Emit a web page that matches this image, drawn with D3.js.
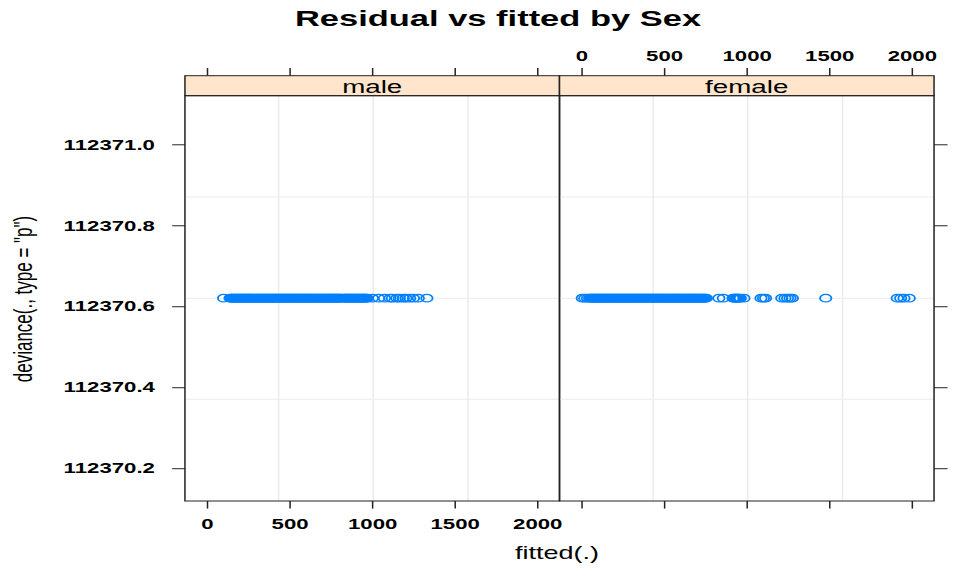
<!DOCTYPE html>
<html>
<head>
<meta charset="utf-8">
<script src="https://cdn.jsdelivr.net/npm/d3@7"></script>
<style>
  body { margin: 0; background: #fff; }
  svg text { font-family: "Liberation Sans", Arial, Helvetica, sans-serif; fill: #000; }
</style>
</head>
<body>
<svg id="chart" width="954" height="578"></svg>
<script>
// Residual deviance against fitted values, one panel per level of Sex
const sexLevels = ["male", "female"];

const fittedMale = [
  102, 141, 147, 153, 159, 166, 172, 178, 184, 191, 197, 203, 209, 216, 222, 228, 234, 241,
  247, 253, 259, 266, 272, 278, 284, 291, 297, 303, 309, 316, 322, 328, 334, 341, 347, 353,
  359, 366, 372, 378, 384, 391, 397, 403, 409, 416, 422, 428, 434, 441, 447, 453, 459, 466,
  472, 478, 484, 491, 497, 503, 509, 516, 522, 528, 534, 541, 547, 553, 559, 566, 572, 578,
  584, 591, 597, 603, 609, 616, 622, 628, 634, 641, 647, 653, 659, 666, 672, 678, 684, 691,
  697, 703, 709, 716, 722, 728, 734, 741, 747, 753, 759, 766, 772, 778, 784, 791, 797, 803,
  809, 815, 829, 835, 841, 847, 853, 860, 866, 872, 878, 885, 891, 897, 903, 910, 916, 922,
  928, 935, 941, 947, 953, 960, 966, 972, 1003, 1041, 1076, 1109, 1124, 1151, 1166, 1190,
  1206, 1229, 1252, 1281, 1333
];

const fittedFemale = [
  6, 21, 37, 50, 56, 62, 69, 75, 81, 87, 94, 100, 106, 112, 119, 125, 131, 137, 144, 150,
  156, 162, 169, 175, 181, 187, 194, 200, 206, 212, 219, 225, 231, 237, 244, 250, 256, 262,
  269, 275, 281, 287, 294, 300, 306, 312, 319, 325, 331, 337, 344, 350, 356, 362, 369, 375,
  381, 387, 394, 400, 406, 412, 419, 425, 431, 437, 444, 450, 456, 462, 469, 475, 481, 487,
  494, 500, 506, 512, 519, 525, 531, 537, 544, 550, 556, 562, 569, 575, 581, 587, 594, 600,
  606, 612, 619, 625, 631, 637, 644, 650, 656, 662, 669, 675, 681, 687, 694, 700, 706, 712,
  719, 725, 731, 737, 744, 750, 757, 833, 860, 919, 925, 931, 938, 944, 950, 957, 963, 985,
  1088, 1103, 1116, 1214, 1233, 1249, 1264, 1278, 1480, 1913, 1934, 1954, 1986
];

// every observation has the same Pearson deviance
const devianceValue = 112370.62;

const xTicks = [0, 500, 1000, 1500, 2000];
const yTicks = [112370.2, 112370.4, 112370.6, 112370.8, 112371.0];
const xGridValues = [435, 1008, 1582];
const yGridValues = [112370.37, 112370.62, 112370.87];

const fittedBySex = { male: fittedMale, female: fittedFemale };

// ---- layout (drawn in a narrow frame, widened by sx) ----
const sx = 1.5;
const stripTop = 75.7, stripBottom = 95.7, panelBottom = 501;
const panelWidth = 249.7;
const panelLeft = { male: 123.3, female: 123.3 + panelWidth };
const tickLen = 7.6;

const svg = d3.select("#chart");
const root = svg.append("g").attr("transform", `scale(${sx},1)`);

const y = d3.scaleLinear()
  .domain([112370.119, 112371.12])
  .range([panelBottom, stripBottom]);

const tickFont = { size: "14.8px", weight: "bold" };

sexLevels.forEach((sex, i) => {
  const x0 = panelLeft[sex];
  const x = d3.scaleLinear().domain([-132, 2136]).range([x0, x0 + panelWidth]);
  const g = root.append("g").attr("class", "panel-" + sex);

  // background grid
  g.selectAll("line.vgrid").data(xGridValues).join("line")
    .attr("class", "vgrid")
    .attr("x1", d => x(d)).attr("x2", d => x(d))
    .attr("y1", stripBottom).attr("y2", panelBottom)
    .attr("stroke", "#ebebeb").attr("stroke-width", 1);
  g.selectAll("line.hgrid").data(yGridValues).join("line")
    .attr("class", "hgrid")
    .attr("x1", x0).attr("x2", x0 + panelWidth)
    .attr("y1", d => y(d)).attr("y2", d => y(d))
    .attr("stroke", "#ebebeb").attr("stroke-width", 1);

  // points
  g.selectAll("circle").data(fittedBySex[sex]).join("circle")
    .attr("cx", d => x(d))
    .attr("cy", y(devianceValue))
    .attr("r", 3.8)
    .attr("fill", "none")
    .attr("stroke", "#0080ff")
    .attr("stroke-width", 1.2);

  // strip
  g.append("rect")
    .attr("x", x0).attr("y", stripTop)
    .attr("width", panelWidth).attr("height", stripBottom - stripTop)
    .attr("fill", "#ffe5cc").attr("stroke", "#222").attr("stroke-width", 1);
  g.append("text")
    .attr("x", x0 + panelWidth / 2).attr("y", 93)
    .attr("text-anchor", "middle")
    .style("font-size", "18.5px")
    .text(sex);

  // panel border
  g.append("rect")
    .attr("x", x0).attr("y", stripBottom)
    .attr("width", panelWidth).attr("height", panelBottom - stripBottom)
    .attr("fill", "none").attr("stroke", "#222").attr("stroke-width", 1);

  // x axes: labels alternate, bottom for the first panel, top for the second
  const fmt = d3.format("d");
  const bottom = g.append("g").attr("transform", `translate(0,${panelBottom})`)
    .call(d3.axisBottom(x).tickValues(xTicks).tickFormat(fmt)
      .tickSize(tickLen).tickSizeOuter(0).tickPadding(10.3));
  const top = g.append("g").attr("transform", `translate(0,${stripTop})`)
    .call(d3.axisTop(x).tickValues(xTicks).tickFormat(fmt)
      .tickSize(tickLen).tickSizeOuter(0).tickPadding(7));
  [bottom, top].forEach(a => {
    a.select(".domain").remove();
    a.selectAll(".tick line").attr("stroke", "#222");
    a.selectAll("text").style("font-size", tickFont.size).style("font-weight", tickFont.weight)
      .attr("fill", "#000");
  });
  if (i === 0) top.selectAll("text").remove();
  else bottom.selectAll("text").remove();

  // y axes: labelled on the left of the first panel, ticks only on the right of the last
  if (i === 0) {
    const left = g.append("g").attr("transform", `translate(${x0},0)`)
      .call(d3.axisLeft(y).tickValues(yTicks).tickSize(8.5).tickSizeOuter(0).tickPadding(11.5)
        .tickFormat(d3.format(".1f")));
    left.select(".domain").remove();
    left.selectAll(".tick line").attr("stroke", "#222");
    left.selectAll("text").style("font-size", tickFont.size).style("font-weight", tickFont.weight)
      .attr("fill", "#000");
  } else {
    const right = g.append("g").attr("transform", `translate(${x0 + panelWidth},0)`)
      .call(d3.axisRight(y).tickValues(yTicks).tickSize(9).tickSizeOuter(0));
    right.select(".domain").remove();
    right.selectAll(".tick line").attr("stroke", "#222");
    right.selectAll("text").remove();
  }
});

// titles
root.append("text")
  .attr("x", 332).attr("y", 26)
  .attr("text-anchor", "middle")
  .style("font-size", "23px").style("font-weight", "bold")
  .text("Residual vs fitted by Sex");

root.append("text")
  .attr("x", 371.3).attr("y", 559)
  .attr("text-anchor", "middle")
  .style("font-size", "18px")
  .text("fitted(.)");

root.append("text")
  .attr("transform", "translate(21,299) rotate(-90)")
  .attr("text-anchor", "middle")
  .style("font-size", "17px")
  .text('deviance(., type = "p")');
</script>
</body>
</html>
